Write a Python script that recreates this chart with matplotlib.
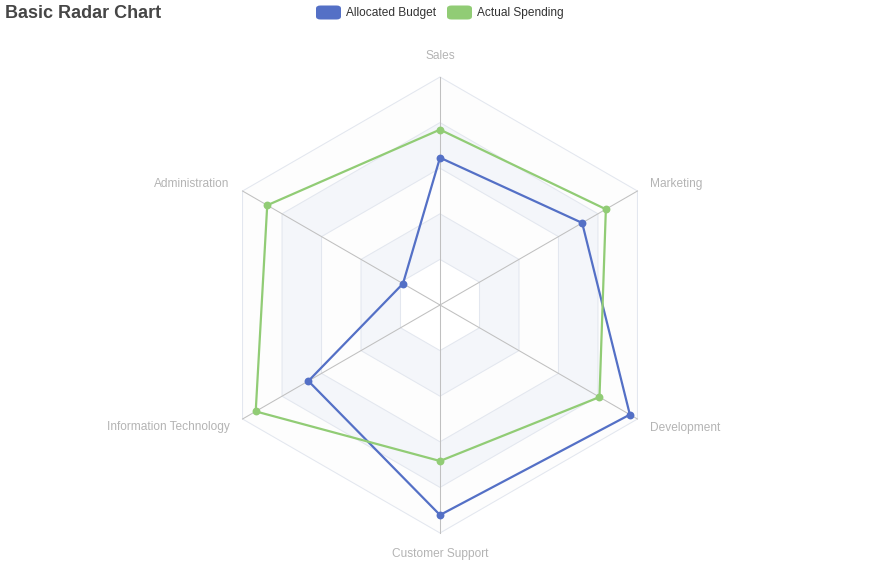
import numpy as np
import matplotlib.pyplot as plt
from matplotlib.patches import Polygon, FancyBboxPatch

plt.rcParams['font.family'] = ['Liberation Sans', 'DejaVu Sans']

# indicators, counterclockwise from the top (echarts order)
indicators = ['Sales', 'Administration', 'Information Technology',
              'Customer Support', 'Development', 'Marketing']
max_values = [6500, 16000, 30000, 38000, 52000, 25000]

allocated_budget = [4200, 3000, 20000, 35000, 50000, 18000]
actual_spending = [5000, 14000, 28000, 26000, 42000, 21000]

series_names = ['Allocated Budget', 'Actual Spending']
series_colors = ['#5470c6', '#91cc75']

W, H = 889, 587
cx, cy, R = 440, 305, 228

fig = plt.figure(figsize=(W / 100, H / 100), dpi=100)
ax = fig.add_axes([0, 0, 1, 1])
ax.set_xlim(-cx / R, (W - cx) / R)
ax.set_ylim(-(H - cy) / R, cy / R)
ax.axis('off')

n = len(indicators)
angles = np.pi / 2 + 2 * np.pi * np.arange(n) / n
ux, uy = np.cos(angles), np.sin(angles)

# split areas, outermost first
levels = 5
for k in range(levels, 0, -1):
    r = k / levels
    col = '#fdfdfd' if k % 2 == 1 else '#f4f6fa'
    if k == 1:
        col = 'white'
    ax.add_patch(Polygon(np.c_[ux * r, uy * r], closed=True, facecolor=col,
                         edgecolor='#e3e7ef', lw=0.75, zorder=1))

# axis lines
for i in range(n):
    ax.plot([0, ux[i]], [0, uy[i]], color='#c0c0c0', lw=0.75, zorder=2)

# indicator names
gap = 15 / R
for i, name in enumerate(indicators):
    x, y = ux[i] * (1 + gap), uy[i] * (1 + gap)
    if abs(ux[i]) < 1e-6:
        ha = 'center'
        y += np.sign(uy[i]) * 6 / R
    else:
        ha = 'left' if ux[i] > 0 else 'right'
        y -= 1 / R
    ax.text(x, y, name, ha=ha, va='center', fontsize=8.6, color='#b4b4b4', zorder=5)

# series
for vals, color in zip([allocated_budget, actual_spending], series_colors):
    frac = np.array(vals) / np.array(max_values)
    xs, ys = ux * frac, uy * frac
    ax.plot(np.r_[xs, xs[0]], np.r_[ys, ys[0]], color=color, lw=1.6, zorder=4)
    ax.scatter(xs, ys, s=32, color=color, zorder=6, linewidths=0)

# title
fig.text(5 / W, 1 - 14 / H, 'Basic Radar Chart', fontsize=13, fontweight='bold',
         color='#464646', ha='left', va='center')

# legend
lx = [316, 447]
for x0, name, color in zip(lx, series_names, series_colors):
    fig.patches.append(FancyBboxPatch((x0 / W, 1 - 19.5 / H), 25 / W, 14 / H,
                                      boxstyle='round,pad=0,rounding_size=0.005',
                                      transform=fig.transFigure, facecolor=color,
                                      edgecolor='none'))
    fig.text((x0 + 30) / W, 1 - 13 / H, name, fontsize=8.6, color='#333333',
             ha='left', va='center')

fig.savefig('out.png', dpi=100)
